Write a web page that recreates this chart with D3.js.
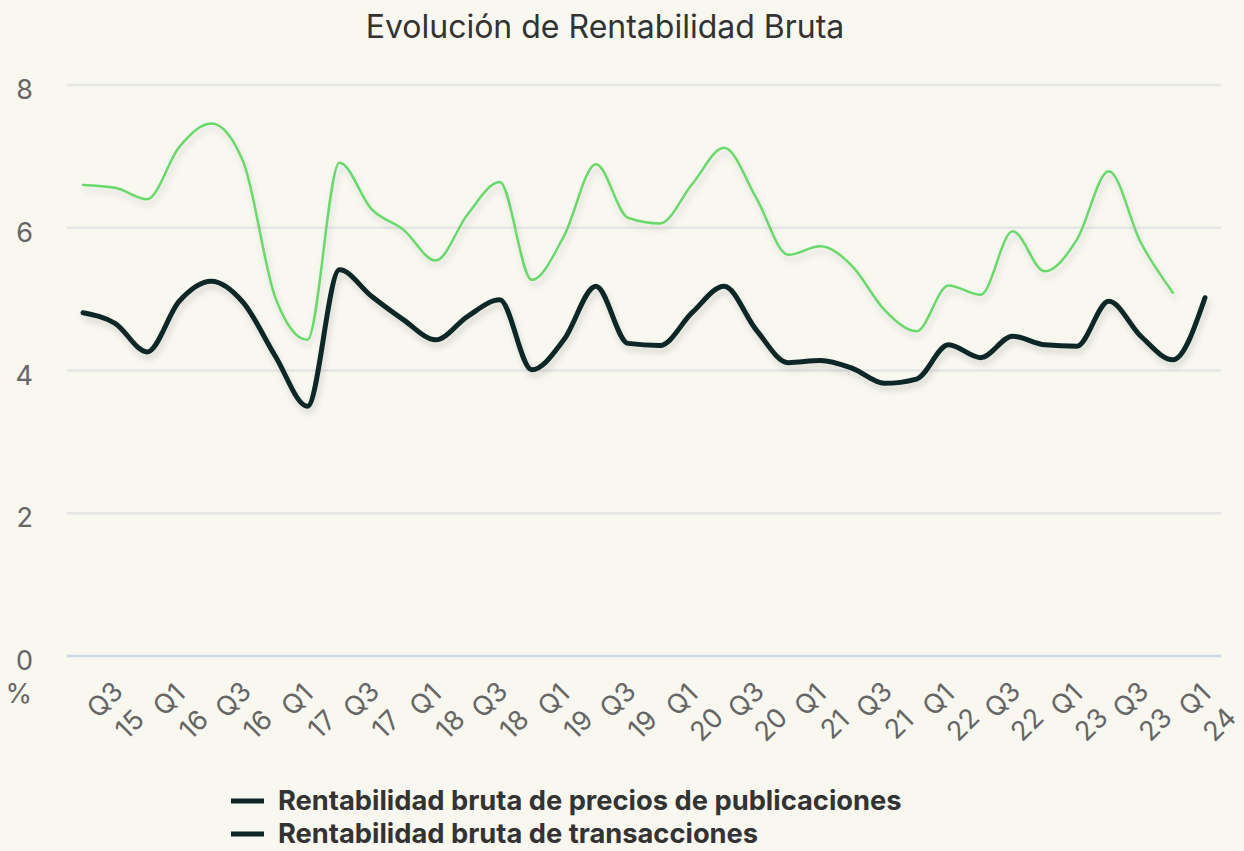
<!DOCTYPE html>
<html>
<head>
<meta charset="utf-8">
<script src="https://cdn.jsdelivr.net/npm/d3@7"></script>
<style>
  html, body { margin: 0; padding: 0; background: #f8f7f0; }
  svg { display: block; font-family: Inter, 'Noto Sans', sans-serif; }
</style>
</head>
<body>
<svg id="chart" width="1244" height="851"></svg>
<script>
'use strict';

/* ── Data ─────────────────────────────────────────────── */
const categories = [
  'Q3 15', 'Q4 15', 'Q1 16', 'Q2 16', 'Q3 16', 'Q4 16', 'Q1 17', 'Q2 17', 'Q3 17',
  'Q4 17', 'Q1 18', 'Q2 18', 'Q3 18', 'Q4 18', 'Q1 19', 'Q2 19', 'Q3 19', 'Q4 19',
  'Q1 20', 'Q2 20', 'Q3 20', 'Q4 20', 'Q1 21', 'Q2 21', 'Q3 21', 'Q4 21', 'Q1 22',
  'Q2 22', 'Q3 22', 'Q4 22', 'Q1 23', 'Q2 23', 'Q3 23', 'Q4 23', 'Q1 24', 'Q2 24'
];

const tickLabels = [
  ['Q3', '15'], ['Q1', '16'], ['Q3', '16'], ['Q1', '17'], ['Q3', '17'], ['Q1', '18'],
  ['Q3', '18'], ['Q1', '19'], ['Q3', '19'], ['Q1', '20'], ['Q3', '20'], ['Q1', '21'],
  ['Q3', '21'], ['Q1', '22'], ['Q3', '22'], ['Q1', '23'], ['Q3', '23'], ['Q1', '24']
];

const publicaciones = [
  6.60, 6.56, 6.40, 7.13, 7.46, 6.92, 5.02, 4.43, 6.91, 6.26, 5.97, 5.54,
  6.19, 6.64, 5.27, 5.88, 6.89, 6.14, 6.06, 6.61, 7.12, 6.42, 5.62, 5.74,
  5.46, 4.85, 4.55, 5.19, 5.06, 5.95, 5.39, 5.83, 6.79, 5.79, 5.09, null
];

const transacciones = [
  4.81, 4.66, 4.26, 4.97, 5.25, 4.95, 4.20, 3.50, 5.41, 5.04, 4.71, 4.43,
  4.76, 4.99, 4.01, 4.43, 5.18, 4.38, 4.35, 4.81, 5.18, 4.57, 4.11, 4.14,
  4.03, 3.82, 3.88, 4.36, 4.18, 4.48, 4.36, 4.34, 4.97, 4.48, 4.15, 5.02
];

const yTicks = [0, 2, 4, 6, 8];

const seriesNames = [
  'Rentabilidad bruta de precios de publicaciones',
  'Rentabilidad bruta de transacciones'
];

/* ── Layout ───────────────────────────────────────────── */
const svg = d3.select('#chart');
const PLOT_L = 67, PLOT_R = 1221, PLOT_T = 85, PLOT_B = 656;

const x = d3.scaleBand().domain(categories).range([PLOT_L, PLOT_R]);
const cx = c => x(c) + x.bandwidth() / 2;
const y = d3.scaleLinear().domain([0, 8]).range([PLOT_B, PLOT_T]);

/* shadow like the original */
const defs = svg.append('defs');
defs.append('filter')
  .attr('id', 'shadow').attr('x', '-5%').attr('y', '-10%').attr('width', '110%').attr('height', '130%')
  .append('feDropShadow')
  .attr('dx', 2).attr('dy', 5).attr('stdDeviation', 3)
  .attr('flood-color', '#000').attr('flood-opacity', 0.13);

/* ── Title ── */
svg.append('text')
  .attr('x', 605).attr('y', 38)
  .attr('text-anchor', 'middle')
  .attr('font-size', 32).attr('fill', '#333333')
  .text('Evolución de Rentabilidad Bruta');

/* ── Grid + y labels ── */
const grid = svg.append('g');
yTicks.forEach(t => {
  grid.append('line')
    .attr('x1', PLOT_L).attr('x2', PLOT_R)
    .attr('y1', y(t)).attr('y2', y(t))
    .attr('stroke', t === 0 ? '#ccd6eb' : '#e6e6e6')
    .attr('stroke-width', 2.5);

  grid.append('text')
    .attr('x', 33).attr('y', y(t) + 14)
    .attr('text-anchor', 'end')
    .attr('font-size', 27).attr('fill', '#666666')
    .text(t);
});

svg.append('text')
  .attr('x', 32).attr('y', 703)
  .attr('text-anchor', 'end')
  .attr('font-size', 27).attr('fill', '#666666')
  .text('%');

/* ── X tick labels (two lines, rotated) ── */
const tickCats = categories.filter((c, i) => i % 2 === 0);
tickCats.forEach((c, i) => {
  const g = svg.append('g')
    .attr('transform', `translate(${cx(c) + 34},712) rotate(-45)`);
  const t = g.append('text')
    .attr('text-anchor', 'middle')
    .attr('font-size', 27).attr('fill', '#666666');
  t.append('tspan').attr('x', 0).attr('y', -8).text(tickLabels[i][0]);
  t.append('tspan').attr('x', 0).attr('y', 27).text(tickLabels[i][1]);
});

/* ── Lines ── */
const line = d3.line()
  .defined(d => d.v != null)
  .x(d => cx(d.c))
  .y(d => y(d.v))
  .curve(d3.curveMonotoneX);

const seriesList = [
  { values: publicaciones, color: '#6ad96c', width: 2.5 },
  { values: transacciones, color: '#0c2627', width: 5 }
];

seriesList.forEach(s => {
  svg.append('path')
    .datum(categories.map((c, i) => ({ c, v: s.values[i] })))
    .attr('d', line)
    .attr('fill', 'none')
    .attr('stroke', s.color)
    .attr('stroke-width', s.width)
    .attr('stroke-linecap', 'round')
    .attr('stroke-linejoin', 'round')
    .attr('filter', 'url(#shadow)');
});

/* ── Legend ── */
const legend = svg.append('g');
seriesNames.forEach((name, i) => {
  const ly = 801 + i * 33;
  legend.append('line')
    .attr('x1', 231).attr('x2', 264)
    .attr('y1', ly).attr('y2', ly)
    .attr('stroke', '#0c2627').attr('stroke-width', 5);
  legend.append('text')
    .attr('x', 278).attr('y', ly + 9)
    .attr('font-size', 27.3).attr('font-weight', 700).attr('fill', '#333333')
    .text(name);
});
</script>
</body>
</html>
